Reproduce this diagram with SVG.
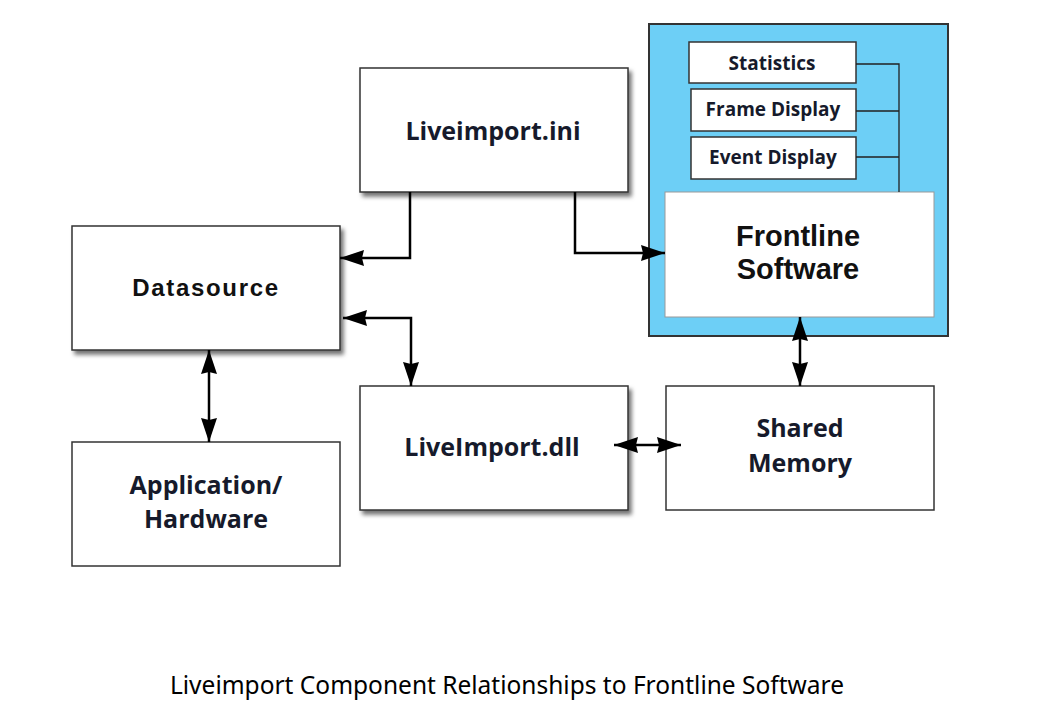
<svg xmlns="http://www.w3.org/2000/svg" width="1054" height="712" viewBox="0 0 1054 712">
<style>
.box{fill:#fff;stroke:#333;stroke-width:1.5}
.lbl{font-family:"Open Sans","Noto Sans",sans-serif;font-weight:bold;fill:#161a2b;text-anchor:middle}
.ar{font-family:"Liberation Sans",Arial,sans-serif;font-weight:bold;fill:#111;text-anchor:middle}
.c{fill:none;stroke:#000;stroke-width:2.5}
.thin{fill:none;stroke:#222;stroke-width:1.3}
</style>
<defs>
<filter id="sh" x="-10%" y="-10%" width="130%" height="130%">
<feDropShadow dx="3" dy="4" stdDeviation="2" flood-color="#000" flood-opacity="0.55"/>
</filter>
<marker id="a" markerUnits="userSpaceOnUse" markerWidth="26" markerHeight="18" refX="24" refY="9" orient="auto-start-reverse">
<path d="M0,1 L24,9 L0,17 L2,9 z" fill="#000"/>
</marker>
</defs>
<rect width="1054" height="712" fill="#fff"/>
<g id="frontline-container">
<rect x="649" y="24" width="299" height="312" fill="#6dcff6" stroke="#333" stroke-width="2"/>
</g>
<g id="statistics">
<rect class="box" x="689" y="42" width="167" height="41"/>
<text class="lbl" x="772" y="70" font-size="19">Statistics</text>
</g>
<g id="frame-display">
<rect class="box" x="691" y="89" width="165" height="42"/>
<text class="lbl" x="773" y="116" font-size="19">Frame Display</text>
</g>
<g id="event-display">
<rect class="box" x="691" y="137" width="165" height="42"/>
<text class="lbl" x="773" y="164" font-size="19">Event Display</text>
</g>
<g id="frontline-software">
<rect x="665" y="192" width="269" height="125" fill="#fff" stroke="#999" stroke-width="1"/>
<text class="ar" x="798" y="246" font-size="29">Frontline</text>
<text class="ar" x="798" y="279" font-size="29">Software</text>
</g>
<g id="liveimport-ini">
<rect class="box" x="360" y="68" width="268" height="124" filter="url(#sh)"/>
<text class="lbl" x="493" y="140" font-size="25">Liveimport.ini</text>
</g>
<g id="datasource">
<rect class="box" x="72" y="226" width="268" height="124" filter="url(#sh)"/>
<text class="ar" x="206" y="296" font-size="24" letter-spacing="1.7">Datasource</text>
</g>
<g id="application-hardware">
<rect class="box" x="72" y="442" width="268" height="124"/>
<text class="lbl" x="206" y="494" font-size="25">Application/</text>
<text class="lbl" x="206" y="528" font-size="25">Hardware</text>
</g>
<g id="liveimport-dll">
<rect class="box" x="360" y="386" width="268" height="124" filter="url(#sh)"/>
<text class="lbl" x="492" y="456" font-size="25">LiveImport.dll</text>
</g>
<g id="shared-memory">
<rect class="box" x="666" y="386" width="268" height="124"/>
<text class="lbl" x="800" y="437" font-size="25">Shared</text>
<text class="lbl" x="800" y="472" font-size="25">Memory</text>
</g>
<g id="connectors">
<path class="thin" d="M856,64 H899 V192 M856,111 H899 M856,157 H899"/>
<path class="c" d="M410,192 V258 H340" marker-end="url(#a)"/>
<path class="c" d="M575,192 V253 H665" marker-end="url(#a)"/>
<path class="c" d="M343,318 H411 V386" marker-start="url(#a)" marker-end="url(#a)"/>
<path class="c" d="M209,350 V442" marker-start="url(#a)" marker-end="url(#a)"/>
<path class="c" d="M614,445 H681" marker-start="url(#a)" marker-end="url(#a)"/>
<path class="c" d="M800,317 V386" marker-start="url(#a)" marker-end="url(#a)"/>
</g>
<text x="507" y="694" font-family="'Noto Sans','Open Sans',sans-serif" font-size="24.5" fill="#000" text-anchor="middle">Liveimport Component Relationships to Frontline Software</text>
</svg>
